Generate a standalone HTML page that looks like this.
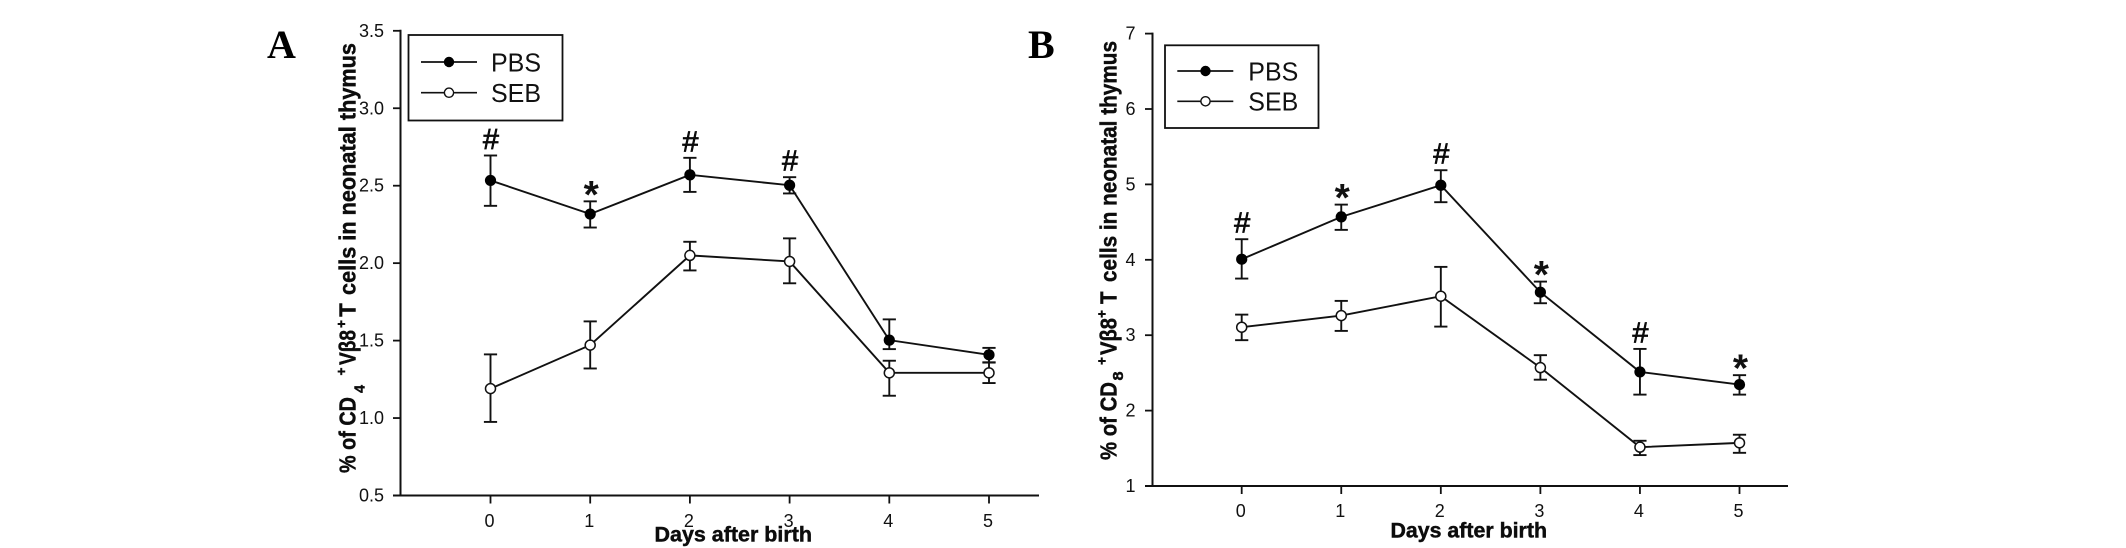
<!DOCTYPE html>
<html lang="en">
<head>
<meta charset="utf-8">
<title>Vβ8+ T cells in neonatal thymus</title>
<style>
html,body{margin:0;padding:0;background:#fff;}
svg{display:block;}
text{font-family:"Liberation Sans",sans-serif;fill:#111;}
.serif{font-family:"Liberation Serif",serif;font-weight:bold;fill:#000;}
.b{font-weight:bold;fill:#0c0c0c;stroke:#0c0c0c;stroke-width:0.45px;}
.lg{font-size:26px;fill:#111;}
</style>
</head>
<body>
<svg xmlns="http://www.w3.org/2000/svg" width="2126" height="548" viewBox="0 0 2126 548">
  <rect x="0" y="0" width="2126" height="548" fill="#fff"/>

  <g id="panel-a">
    <text class="serif" x="267" y="58" font-size="40">A</text>
    <g id="plot-a"></g>
    <text class="b" x="654.5" y="541.5" font-size="21" textLength="157.5" lengthAdjust="spacingAndGlyphs">Days after birth</text>
    <g transform="translate(355.7,0) rotate(-90)" font-size="23.5">
      <text class="b" x="-473" y="0" textLength="76" lengthAdjust="spacingAndGlyphs">% of CD</text>
      <text class="b" x="-393" y="9" font-size="15" textLength="8" lengthAdjust="spacingAndGlyphs">4</text>
      <text class="b" x="-375.5" y="-9.7" font-size="14" textLength="8" lengthAdjust="spacingAndGlyphs">+</text>
      <text class="b" x="-365" y="0" textLength="35" lengthAdjust="spacingAndGlyphs">Vβ8</text>
      <text class="b" x="-328" y="-9.7" font-size="14" textLength="8" lengthAdjust="spacingAndGlyphs">+</text>
      <text class="b" x="-316.7" y="0" textLength="13.5" lengthAdjust="spacingAndGlyphs">T</text>
      <text class="b" x="-295" y="0" textLength="252" lengthAdjust="spacingAndGlyphs">cells in neonatal thymus</text>
    </g>
    <g>
      <rect x="408.5" y="35" width="154" height="85.5" fill="#fff" stroke="#111" stroke-width="1.8"/>
      <g>
        <line x1="421" y1="62" x2="477" y2="62" stroke="#111" stroke-width="1.7"/>
        <circle cx="449" cy="62" r="5.2" fill="#000"/>
        <text class="lg" x="491" y="71.5" textLength="50" lengthAdjust="spacingAndGlyphs">PBS</text>
      </g>
      <g>
        <line x1="421" y1="92.7" x2="477" y2="92.7" stroke="#111" stroke-width="1.7"/>
        <circle cx="449" cy="92.7" r="4.6" fill="#fff" stroke="#111" stroke-width="1.4"/>
        <text class="lg" x="491" y="102" textLength="50" lengthAdjust="spacingAndGlyphs">SEB</text>
      </g>
    </g>
  </g>

  <g id="panel-b">
    <text class="serif" x="1028" y="58" font-size="40">B</text>
    <g id="plot-b"></g>
    <text class="b" x="1390.5" y="537.7" font-size="21" textLength="156.5" lengthAdjust="spacingAndGlyphs">Days after birth</text>
    <g transform="translate(1116.7,0) rotate(-90)" font-size="23.5">
      <text class="b" x="-460" y="0" textLength="78" lengthAdjust="spacingAndGlyphs">% of CD</text>
      <text class="b" x="-380.5" y="6.5" font-size="15" textLength="9" lengthAdjust="spacingAndGlyphs">8</text>
      <text class="b" x="-365" y="-10" font-size="14" textLength="8" lengthAdjust="spacingAndGlyphs">+</text>
      <text class="b" x="-355" y="0" textLength="37" lengthAdjust="spacingAndGlyphs">Vβ8</text>
      <text class="b" x="-318" y="-10" font-size="14" textLength="8" lengthAdjust="spacingAndGlyphs">+</text>
      <text class="b" x="-304" y="0" textLength="12.5" lengthAdjust="spacingAndGlyphs">T</text>
      <text class="b" x="-282" y="0" textLength="241" lengthAdjust="spacingAndGlyphs">cells in neonatal thymus</text>
    </g>
    <g>
      <rect x="1165" y="45.3" width="153.5" height="82.7" fill="#fff" stroke="#111" stroke-width="1.8"/>
      <g>
        <line x1="1177.3" y1="71" x2="1233.3" y2="71" stroke="#111" stroke-width="1.7"/>
        <circle cx="1205.5" cy="71" r="5.2" fill="#000"/>
        <text class="lg" x="1248.3" y="80.5" textLength="50" lengthAdjust="spacingAndGlyphs">PBS</text>
      </g>
      <g>
        <line x1="1177.3" y1="101.3" x2="1233.3" y2="101.3" stroke="#111" stroke-width="1.7"/>
        <circle cx="1205.5" cy="101.3" r="4.6" fill="#fff" stroke="#111" stroke-width="1.4"/>
        <text class="lg" x="1248.3" y="110.5" textLength="50" lengthAdjust="spacingAndGlyphs">SEB</text>
      </g>
    </g>
  </g>
</svg>

<script>
var days = [0, 1, 2, 3, 4, 5];

var yTicksA = ['0.5', '1.0', '1.5', '2.0', '2.5', '3.0', '3.5'];
var pbsA = [2.534, 2.317, 2.57, 2.503, 1.503, 1.408];
var pbsHiA = [2.695, 2.399, 2.68, 2.555, 1.637, 1.453];
var pbsLoA = [2.37, 2.23, 2.46, 2.45, 1.445, 1.358];
var sebA = [1.19, 1.471, 2.05, 2.011, 1.292, 1.292];
var sebHiA = [1.411, 1.624, 2.138, 2.16, 1.37, 1.36];
var sebLoA = [0.975, 1.32, 1.953, 1.87, 1.144, 1.226];
var marksA = ['#', '*', '#', '#', '', ''];

var yTicksB = ['1', '2', '3', '4', '5', '6', '7'];
var pbsB = [4.008, 4.569, 4.989, 3.57, 2.513, 2.345];
var pbsHiB = [4.273, 4.732, 5.188, 3.711, 2.818, 2.47];
var pbsLoB = [3.751, 4.397, 4.764, 3.424, 2.212, 2.212];
var sebB = [3.106, 3.26, 3.517, 2.57, 1.515, 1.572];
var sebHiB = [3.273, 3.455, 3.906, 2.735, 1.6, 1.68];
var sebLoB = [2.934, 3.057, 3.114, 2.41, 1.41, 1.44];
var marksB = ['#', '*', '#', '*', '#', '*'];

var NS = 'http://www.w3.org/2000/svg';
var INK = '#111';

function make(parent, tag, attrs, txt) {
  var el = document.createElementNS(NS, tag);
  for (var k in attrs) { el.setAttribute(k, attrs[k]); }
  if (txt !== undefined) { el.textContent = txt; }
  parent.appendChild(el);
  return el;
}

function drawSeries(g, xs, ys, vals, hi, lo, filled, label) {
  var i, el;
  for (i = 0; i < vals.length; i++) {
    var eb = make(g, 'g', {stroke: INK, 'stroke-width': 1.9});
    
    
    var x = xs(xs.days[i]);
    make(eb, 'line', {x1: x, x2: x, y1: ys(hi[i]), y2: ys(lo[i])});
    make(eb, 'line', {x1: x - 6.6, x2: x + 6.6, y1: ys(hi[i]), y2: ys(hi[i])});
    make(eb, 'line', {x1: x - 6.6, x2: x + 6.6, y1: ys(lo[i]), y2: ys(lo[i])});
  }
  var pts = vals.map(function (v, j) { return xs(xs.days[j]) + ',' + ys(v); }).join(' ');
  el = make(g, 'polyline', {points: pts, fill: 'none', stroke: INK, 'stroke-width': 1.9});
  
  
  for (i = 0; i < vals.length; i++) {
    el = make(g, 'circle', {
      cx: xs(xs.days[i]), cy: ys(vals[i]),
      r: filled ? 5.6 : 5,
      fill: filled ? '#000' : '#fff',
      stroke: filled ? 'none' : INK,
      'stroke-width': filled ? 0 : 1.5
    });
    
    
  }
}

function drawAxes(g, o, xs, ys, yTicks) {
  var el, i;
  el = make(g, 'line', {x1: o.axisX, x2: o.axisX, y1: ys(parseFloat(yTicks[yTicks.length - 1])) - 1, y2: o.axisY + 1, stroke: INK, 'stroke-width': 2});
  
  
  el = make(g, 'line', {x1: o.axisX - 7.5, x2: o.xEnd, y1: o.axisY, y2: o.axisY, stroke: INK, 'stroke-width': 2});
  
  
  for (i = 0; i < yTicks.length; i++) {
    var ty = ys(parseFloat(yTicks[i]));
    el = make(g, 'line', {x1: o.axisX - 7.5, x2: o.axisX, y1: ty, y2: ty, stroke: INK, 'stroke-width': 1.8});
    
    
    el = make(g, 'text', {x: o.yLabelX, y: ty + 6, 'font-size': 18, 'text-anchor': 'end', fill: '#222'}, yTicks[i]);
    
    
  }
  for (i = 0; i < xs.days.length; i++) {
    var tx = xs(xs.days[i]);
    el = make(g, 'line', {x1: tx, x2: tx, y1: o.axisY, y2: o.axisY + 8, stroke: INK, 'stroke-width': 1.8});
    
    
    el = make(g, 'text', {x: tx - 1, y: o.xLabelY, 'font-size': 18, 'text-anchor': 'middle', fill: '#222'}, String(xs.days[i]));
    
    
  }
}

function drawMarks(g, xs, ys, hi, marks) {
  for (var i = 0; i < marks.length; i++) {
    if (!marks[i]) { continue; }
    var star = marks[i] === '*';
    var el = make(g, 'text', {
      x: xs(xs.days[i]) + (star ? 1 : 0.5),
      y: ys(hi[i]) + (star ? 6.5 : -6.5),
      'font-size': star ? 39 : 29,
      'font-weight': star ? 'bold' : 'normal',
      'text-anchor': 'middle',
      stroke: star ? 'none' : '#000',
      'stroke-width': star ? 0 : 0.7,
      fill: '#000'
    }, marks[i]);
    
    
  }
}

function xScale(x0, step) {
  var f = function (d) { return x0 + d * step; };
  f.days = days;
  return f;
}
function yScale(yBase, vBase, perUnit) {
  return function (v) { return yBase - (v - vBase) * perUnit; };
}

var xA = xScale(490.5, 99.7);
var yA = yScale(495.5, 0.5, 154.9);
var xB = xScale(1241.7, 99.56);
var yB = yScale(486, 1, 75.4);
var gA = document.getElementById('plot-a');
var gB = document.getElementById('plot-b');

drawAxes(gA, {axisX: 400.5, axisY: 495.5, xEnd: 1039, yLabelX: 384, xLabelY: 527}, xA, yA, yTicksA);
drawSeries(gA, xA, yA, pbsA, pbsHiA, pbsLoA, true, 'pbs-a');
drawSeries(gA, xA, yA, sebA, sebHiA, sebLoA, false, 'seb-a');
drawMarks(gA, xA, yA, pbsHiA, marksA);

drawAxes(gB, {axisX: 1152.5, axisY: 486, xEnd: 1788, yLabelX: 1135.5, xLabelY: 517}, xB, yB, yTicksB);
drawSeries(gB, xB, yB, pbsB, pbsHiB, pbsLoB, true, 'pbs-b');
drawSeries(gB, xB, yB, sebB, sebHiB, sebLoB, false, 'seb-b');
drawMarks(gB, xB, yB, pbsHiB, marksB);
</script>
</body>
</html>
